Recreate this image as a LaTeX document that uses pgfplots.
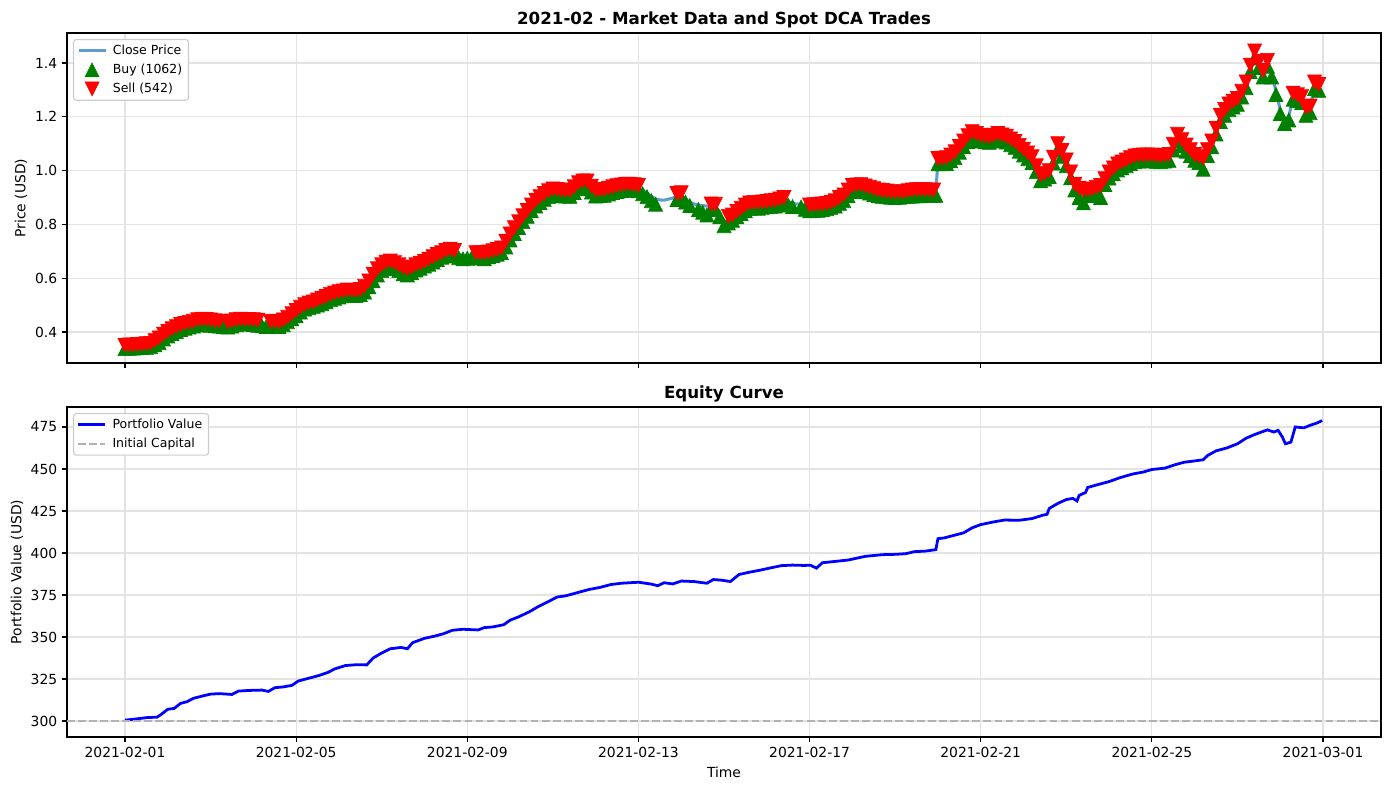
\documentclass[border=0pt]{standalone}
\usepackage{fontspec}
\setmainfont{DejaVu Sans}
\usepackage{pgfplots}
\usepackage{pgfplotstable}
\pgfplotsset{compat=1.18}
\definecolor{closec}{RGB}{95,158,204}
\definecolor{mplgreen}{RGB}{0,128,0}
\definecolor{mplred}{RGB}{255,0,0}
\definecolor{pfblue}{RGB}{0,0,255}

\pgfdeclareplotmark{tup}{%
  \pgfpathmoveto{\pgfqpoint{0pt}{\pgfplotmarksize}}%
  \pgfpathlineto{\pgfqpoint{-\pgfplotmarksize}{-\pgfplotmarksize}}%
  \pgfpathlineto{\pgfqpoint{\pgfplotmarksize}{-\pgfplotmarksize}}%
  \pgfpathclose
  \pgfusepathqfillstroke}
\pgfdeclareplotmark{tdown}{%
  \pgfpathmoveto{\pgfqpoint{0pt}{-\pgfplotmarksize}}%
  \pgfpathlineto{\pgfqpoint{-\pgfplotmarksize}{\pgfplotmarksize}}%
  \pgfpathlineto{\pgfqpoint{\pgfplotmarksize}{\pgfplotmarksize}}%
  \pgfpathclose
  \pgfusepathqfillstroke}

\pgfplotstableread{
t close buy sell
0.0 0.345 0.338 0.350
0.1 0.347 0.339 0.352
0.2 0.348 0.340 0.352
0.3 0.349 0.341 0.354
0.4 0.350 0.342 0.355
0.5 0.352 0.343 0.357
0.6 0.355 0.345 0.358
0.7 0.362 0.352 0.368
0.8 0.372 0.360 0.378
0.9 0.385 0.374 0.392
1.0 0.395 0.385 0.402
1.1 0.404 0.394 0.412
1.2 0.412 0.402 0.420
1.3 0.420 0.409 0.428
1.4 0.425 0.414 0.432
1.5 0.428 0.418 0.436
1.6 0.432 0.422 0.440
1.7 0.437 0.426 0.446
1.8 0.440 0.428 0.448
1.9 0.438 0.428 0.447
2.0 0.435 0.425 0.445
2.1 0.432 0.423 0.442
2.2 0.430 0.422 0.440
2.3 0.428 0.420 nan
2.4 0.428 0.418 0.438
2.5 0.432 0.422 0.441
2.6 0.437 0.427 0.446
2.7 0.440 0.430 0.448
2.8 0.440 0.430 0.447
2.9 0.439 0.429 0.447
3.0 0.438 0.428 0.446
3.1 0.435 0.425 0.444
3.2 0.433 0.423 nan
3.3 0.432 0.420 nan
3.4 0.432 0.422 0.440
3.5 0.431 0.421 0.439
3.6 0.430 0.420 0.438
3.7 0.437 0.427 0.445
3.8 0.448 0.438 0.455
3.9 0.460 0.449 0.468
4.0 0.472 0.460 0.480
4.1 0.485 0.474 0.492
4.2 0.495 0.485 0.502
4.3 0.501 0.490 0.508
4.4 0.506 0.495 0.512
4.5 0.511 0.500 0.519
4.6 0.516 0.505 0.525
4.7 0.523 0.512 0.532
4.8 0.530 0.520 0.540
4.9 0.536 0.525 0.545
5.0 0.540 0.530 0.550
5.1 0.545 0.534 0.553
5.2 0.548 0.538 0.556
5.3 0.547 0.536 0.555
5.4 0.546 0.535 0.554
5.5 0.550 0.539 0.558
5.6 0.560 0.548 0.570
5.7 0.580 0.568 0.590
5.8 0.605 0.590 0.615
5.9 0.625 0.612 0.635
6.0 0.640 0.628 0.650
6.1 0.650 0.638 0.660
6.2 0.655 0.643 0.664
6.3 0.648 0.636 0.658
6.4 0.640 0.628 0.650
6.5 0.630 0.616 0.640
6.6 0.625 0.612 0.635
6.7 0.632 0.620 0.642
6.8 0.640 0.630 0.650
6.9 0.648 0.637 0.656
7.0 0.655 0.645 0.662
7.1 0.662 0.652 0.671
7.2 0.670 0.660 0.680
7.3 0.680 0.669 0.688
7.4 0.688 0.678 0.695
7.5 0.695 0.684 0.703
7.6 0.700 0.690 0.708
7.7 0.694 0.682 0.703
7.8 0.688 0.676 nan
7.9 0.685 0.672 nan
8.0 0.684 0.674 nan
8.1 0.686 0.676 nan
8.2 0.688 0.678 0.695
8.3 0.687 0.675 0.695
8.4 0.686 0.672 0.694
8.5 0.690 0.679 0.698
8.6 0.694 0.684 0.702
8.7 0.699 0.689 0.707
8.8 0.705 0.695 0.713
8.9 0.728 0.716 0.738
9.0 0.755 0.742 0.765
9.1 0.778 0.766 0.788
9.2 0.800 0.788 0.810
9.3 0.822 0.810 0.832
9.4 0.842 0.830 0.852
9.5 0.862 0.850 0.872
9.6 0.880 0.868 0.890
9.7 0.893 0.881 0.903
9.8 0.905 0.893 0.915
9.9 0.915 0.903 0.925
10.0 0.922 0.910 0.932
10.1 0.920 0.908 0.930
10.2 0.918 0.906 0.928
10.3 0.917 0.905 0.927
10.4 0.916 0.904 0.926
10.5 0.930 0.918 0.940
10.6 0.945 0.932 0.955
10.7 0.952 0.938 0.962
10.8 0.950 0.935 0.962
10.9 0.932 0.920 0.942
11.0 0.918 0.905 0.928
11.1 0.919 0.907 0.929
11.2 0.920 0.908 0.930
11.3 0.925 0.913 0.935
11.4 0.930 0.918 0.940
11.5 0.934 0.922 0.944
11.6 0.938 0.926 0.947
11.7 0.940 0.928 0.950
11.8 0.940 0.928 0.950
11.9 0.938 0.927 0.948
12.0 0.935 0.925 0.945
12.1 0.926 0.914 nan
12.2 0.915 0.903 nan
12.3 0.904 0.888 nan
12.4 0.895 0.875 nan
12.5 0.891 nan nan
12.6 0.890 nan nan
12.7 0.894 nan nan
12.8 0.898 nan nan
12.9 0.905 0.892 0.915
13.0 0.910 0.895 0.918
13.1 0.895 0.883 nan
13.2 0.882 0.870 nan
13.3 0.876 nan nan
13.4 0.872 0.855 nan
13.5 0.870 0.845 nan
13.6 0.868 0.835 nan
13.7 0.867 0.856 0.876
13.8 0.866 0.855 0.875
13.9 0.840 0.828 nan
14.0 0.810 0.795 nan
14.1 0.815 0.805 0.830
14.2 0.825 0.815 0.835
14.3 0.838 0.828 0.848
14.4 0.850 0.840 0.860
14.5 0.862 0.850 0.872
14.6 0.872 0.860 0.880
14.7 0.873 0.861 0.882
14.8 0.872 0.860 0.882
14.9 0.874 0.863 0.884
15.0 0.876 0.866 0.885
15.1 0.878 0.867 0.888
15.2 0.880 0.868 0.890
15.3 0.885 0.873 0.895
15.4 0.890 0.878 0.900
15.5 0.884 0.872 nan
15.6 0.878 0.866 nan
15.7 0.876 nan nan
15.8 0.875 0.865 nan
15.9 0.868 0.856 nan
16.0 0.862 0.850 0.872
16.1 0.863 0.851 0.873
16.2 0.864 0.852 0.875
16.3 0.867 0.855 0.876
16.4 0.870 0.858 0.878
16.5 0.875 0.863 0.883
16.6 0.880 0.868 0.888
16.7 0.890 0.878 0.900
16.8 0.900 0.888 0.910
16.9 0.918 0.906 0.928
17.0 0.935 0.922 0.945
17.1 0.937 0.925 0.947
17.2 0.938 0.926 0.948
17.3 0.933 0.921 0.943
17.4 0.928 0.916 0.938
17.5 0.923 0.911 0.933
17.6 0.918 0.906 0.928
17.7 0.916 0.904 0.926
17.8 0.914 0.902 0.924
17.9 0.912 0.901 0.922
18.0 0.910 0.900 0.920
18.1 0.911 0.901 0.921
18.2 0.913 0.903 0.922
18.3 0.915 0.904 0.925
18.4 0.917 0.905 0.928
18.5 0.918 0.906 0.929
18.6 0.918 0.906 0.930
18.7 0.919 0.907 0.929
18.8 0.920 0.908 0.928
18.9 0.920 0.908 0.928
18.95 0.920 0.908 nan
19.0 1.036 1.025 1.045
19.1 1.037 1.025 1.046
19.2 1.038 1.026 1.048
19.3 1.048 1.036 1.058
19.4 1.060 1.048 1.070
19.5 1.080 1.068 1.090
19.6 1.100 1.088 1.110
19.7 1.120 1.108 1.130
19.8 1.135 1.122 1.145
19.9 1.128 1.116 1.138
20.0 1.122 1.110 1.132
20.1 1.119 1.107 1.129
20.2 1.116 1.105 1.126
20.3 1.122 1.110 1.132
20.4 1.128 1.116 1.138
20.5 1.123 1.111 1.133
20.6 1.118 1.106 1.128
20.7 1.108 1.096 1.118
20.8 1.098 1.086 1.108
20.9 1.084 1.072 1.094
21.0 1.070 1.058 1.080
21.1 1.056 1.044 1.066
21.2 1.042 1.030 1.052
21.3 1.008 0.996 1.018
21.4 0.975 0.962 0.985
21.5 0.980 0.968 0.990
21.6 0.990 0.978 1.000
21.7 1.040 1.028 1.050
21.8 1.090 1.078 1.100
21.9 1.065 1.053 1.075
22.0 1.030 1.018 1.040
22.1 0.985 0.973 0.995
22.2 0.940 0.928 0.950
22.3 0.925 0.900 0.935
22.4 0.916 0.880 0.928
22.5 0.919 0.907 0.929
22.6 0.922 0.910 0.932
22.7 0.928 0.916 0.938
22.8 0.935 0.900 0.945
22.9 0.960 0.948 0.970
23.0 0.985 0.972 0.995
23.1 1.000 0.988 1.010
23.2 1.015 1.002 1.025
23.3 1.022 1.010 1.032
23.4 1.030 1.018 1.040
23.5 1.038 1.026 1.048
23.6 1.045 1.033 1.055
23.7 1.047 1.035 1.057
23.8 1.048 1.036 1.058
23.9 1.048 1.036 1.058
24.0 1.048 1.036 1.058
24.1 1.046 1.034 1.056
24.2 1.045 1.033 1.055
24.3 1.047 1.035 1.057
24.4 1.050 1.038 1.060
24.5 1.088 1.076 1.098
24.6 1.125 1.112 1.135
24.7 1.105 1.092 1.115
24.8 1.085 1.072 1.095
24.9 1.068 1.056 1.078
25.0 1.050 1.038 1.060
25.1 1.043 1.030 1.053
25.2 1.036 1.005 1.046
25.3 1.068 1.056 1.078
25.4 1.100 1.088 1.110
25.5 1.148 1.136 1.158
25.6 1.195 1.182 1.205
25.7 1.217 1.205 1.227
25.8 1.238 1.226 1.248
25.9 1.248 1.236 1.258
26.0 1.258 1.246 1.268
26.1 1.285 1.273 1.295
26.2 1.320 1.308 1.330
26.3 1.380 1.368 1.392
26.4 1.430 1.418 1.445
26.5 1.395 1.383 1.407
26.6 1.360 1.348 1.372
26.7 1.400 1.388 1.410
26.8 1.360 1.348 nan
26.9 1.295 1.283 nan
27.0 1.225 1.212 nan
27.1 1.190 1.175 nan
27.2 1.200 1.188 nan
27.3 1.277 1.265 1.288
27.4 1.272 1.260 1.282
27.5 1.265 1.253 1.275
27.6 1.225 1.205 1.235
27.7 1.230 1.215 1.240
27.8 1.320 1.305 1.330
27.9 1.310 1.298 1.320
}\pricedata

\pgfplotstableread{
t value
0.0 300.5
0.25 301.2
0.5 302.0
0.75 302.3
0.85 304.0
1.0 307.0
1.15 307.5
1.3 310.5
1.45 311.5
1.6 313.5
1.8 314.8
2.0 316.0
2.2 316.3
2.5 315.8
2.65 317.8
2.9 318.2
3.2 318.4
3.35 317.6
3.5 319.8
3.7 320.3
3.9 321.2
4.05 323.8
4.3 325.5
4.55 327.2
4.75 329.0
4.9 331.0
5.15 333.0
5.4 333.5
5.65 333.4
5.8 337.5
6.0 340.5
6.2 343.0
6.45 343.8
6.6 343.0
6.72 346.6
7.0 349.2
7.25 350.6
7.45 352.0
7.65 354.0
7.9 354.6
8.25 354.2
8.4 355.6
8.6 356.0
8.85 357.3
9.0 360.0
9.2 362.0
9.45 365.0
9.65 368.0
9.85 370.5
10.1 373.8
10.3 374.5
10.6 376.6
10.85 378.3
11.1 379.5
11.35 381.2
11.6 382.0
12.0 382.6
12.3 381.5
12.45 380.5
12.6 382.3
12.8 381.6
13.0 383.3
13.3 383.0
13.6 382.0
13.75 384.2
13.95 383.8
14.15 383.0
14.35 387.2
14.6 388.6
14.85 389.8
15.1 391.2
15.35 392.5
15.6 392.8
15.85 392.6
16.02 392.7
16.16 391.0
16.3 394.2
16.6 395.0
16.9 395.8
17.3 398.0
17.7 399.0
18.0 399.2
18.25 399.6
18.45 400.8
18.7 401.1
18.95 402.0
19.0 408.5
19.15 409.0
19.3 410.0
19.6 412.0
19.8 415.0
20.0 416.9
20.3 418.5
20.55 419.6
20.9 419.5
21.2 420.5
21.45 422.5
21.55 423.0
21.6 426.5
21.8 429.5
22.0 431.8
22.15 432.5
22.25 431.0
22.3 434.3
22.45 436.0
22.5 439.0
22.75 440.8
23.0 442.5
23.25 444.8
23.55 447.0
23.8 448.2
24.0 449.7
24.3 450.5
24.55 452.6
24.75 454.0
25.0 454.8
25.2 455.5
25.3 458.0
25.5 460.8
25.75 462.5
26.0 465.0
26.2 468.3
26.4 470.5
26.7 473.3
26.85 472.0
26.95 473.0
27.05 469.0
27.12 465.0
27.25 466.0
27.35 475.0
27.55 474.5
27.7 476.0
27.85 477.3
27.98 478.8
}\equitydata

\pgfplotsset{
  mpl/.style={
    scale only axis, width=946.08pt, height=237.6pt,
    xmin=-1.3556, xmax=29.355,
    xtick={0,4,8,12,16,20,24,28},
    xtick pos=bottom, ytick pos=left,
    axis line style={line width=0.8pt},
    tick align=outside, major tick length=3.5pt,
    every tick/.style={black, line width=0.8pt},
    grid=major, grid style={black!11, line width=0.8pt},
    tick label style={font=\fontsize{10}{12}\selectfont},
    /pgf/number format/assume math mode=true,
    every axis title/.style={at={(0.5,1)}, anchor=base, yshift=6pt, font=\bfseries\fontsize{12}{14}\selectfont},
    label style={font=\fontsize{10}{12}\selectfont},
    legend cell align=left,
    legend style={at={(0,1)}, anchor=north west, xshift=4.3pt, yshift=-4.3pt,
      font=\fontsize{9}{11}\selectfont,
      draw=black!20, line width=0.8pt, rounded corners=2pt, fill=white,
      inner xsep=1.5pt, inner ysep=1.3pt, row sep=0pt, column sep=0.1pt,
      nodes={inner xsep=3pt, inner ysep=2.5pt, text height=6.8pt, text depth=1.9pt}},
  },
  lineleg/.style={legend image code/.code={\path (0pt,0pt) (21.5pt,0pt); \draw[##1, line width=#1] (1pt,0pt) -- (20.5pt,0pt);}},
  markleg/.style={legend image code/.code={\path (0pt,0pt) (21.5pt,0pt); \draw[##1] plot coordinates {(10.75pt,0pt)};}},
}

\begin{document}
\begin{tikzpicture}
\useasboundingbox (-48.24pt,-307.44pt) rectangle (951.84pt,261.36pt);
\begin{axis}[mpl, at={(0pt,0pt)}, anchor=south west,
  ymin=0.2848, ymax=1.5115,
  ytick={0.4,0.6,0.8,1.0,1.2,1.4},
  yticklabels={0.4,0.6,0.8,1.0,1.2,1.4},
  xticklabels={},
  title={2021-02 - Market Data and Spot DCA Trades},
  ylabel={Price (USD)},
  ylabel style={at={(axis description cs:0,0.5)}, anchor=center, yshift=33.1pt},
]
\addplot[color=closec, line width=2.2pt, no markers, lineleg=2.2pt] table[x=t, y=close] {\pricedata};
\addlegendentry{Close Price}
\addplot[only marks, mark=tup, mark size=5pt, color=mplgreen, mark options={line width=0.5pt, solid, sharp corners}, markleg] table[x=t, y=buy] {\pricedata};
\addlegendentry{Buy (1062)}
\addplot[only marks, mark=tdown, mark size=5pt, color=mplred, mark options={line width=0.5pt, solid, sharp corners}, markleg] table[x=t, y=sell] {\pricedata};
\addlegendentry{Sell (542)}
\end{axis}
\begin{axis}[mpl, at={(0pt,-269.28pt)}, anchor=south west,
  ymin=290.48, ymax=486.9,
  ytick={300,325,350,375,400,425,450,475},
  yticklabels={300,325,350,375,400,425,450,475},
  xticklabels={2021-02-01,2021-02-05,2021-02-09,2021-02-13,2021-02-17,2021-02-21,2021-02-25,2021-03-01},
  title={Equity Curve},
  xlabel={Time},
  ylabel={Portfolio Value (USD)},
  xlabel style={at={(axis description cs:0.5,0)}, anchor=center, yshift=-25.2pt},
  ylabel style={at={(axis description cs:0,0.5)}, anchor=center, yshift=36pt},
]
\addplot[color=pfblue, line width=2pt, no markers, lineleg=2pt] table[x=t, y=value] {\equitydata};
\addlegendentry{Portfolio Value}
\addplot[color=black!30, line width=1.5pt, dash pattern=on 5.55pt off 2.4pt, no markers, lineleg=1.5pt] coordinates {(-1.3556,300) (29.355,300)};
\addlegendentry{Initial Capital}
\end{axis}
\end{tikzpicture}
\end{document}
